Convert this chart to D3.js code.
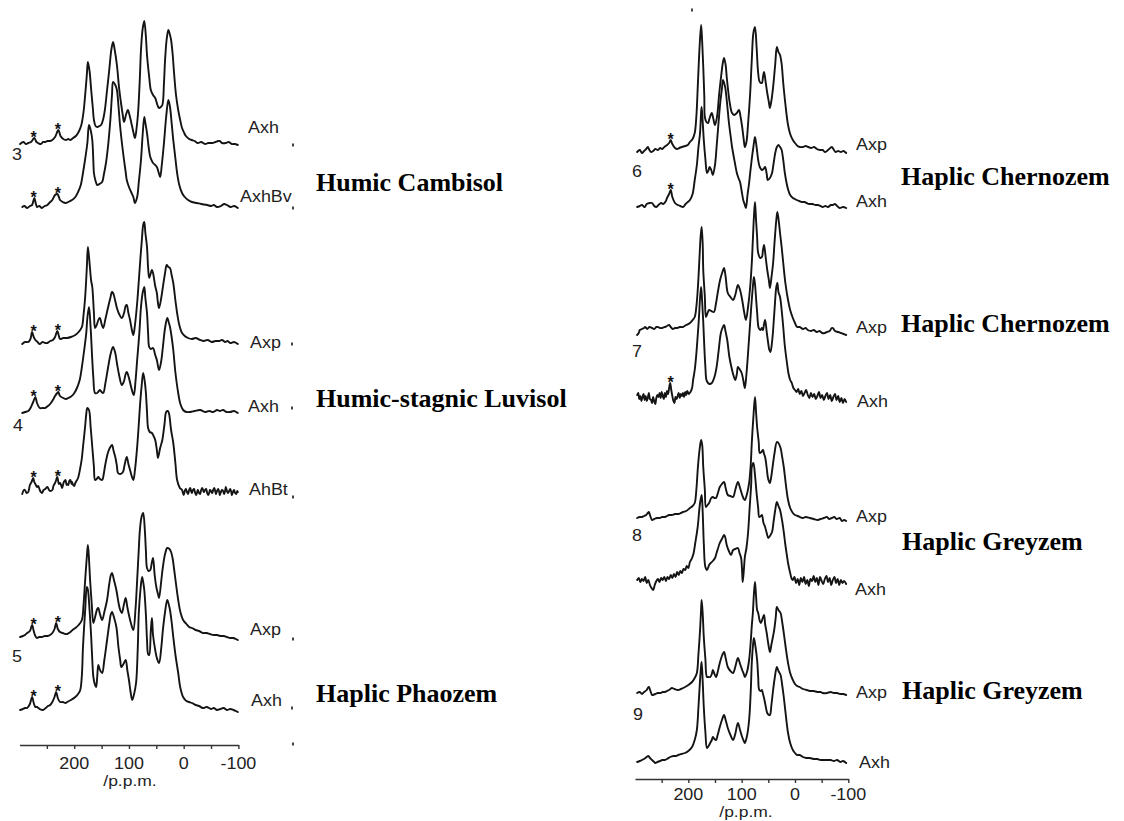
<!DOCTYPE html>
<html>
<head>
<meta charset="utf-8">
<script src="https://cdn.jsdelivr.net/npm/d3@7"></script>
<style>
  html, body { margin: 0; padding: 0; background: #fff; }
  svg { display: block; }
</style>
</head>
<body>
<svg id="chart" width="1124" height="821"></svg>
<script>
// 13C CPMAS NMR spectra of soil horizons, chemical shift (ppm) vs. relative intensity.

const ppmDomain = [300, -100];
const axisTicks = [250, 200, 150, 100, 50, 0, -50, -100];
const axisTickLabels = [200, 100, 0, -100];
const axisUnit = "/p.p.m.";

// spinning sideband positions (ppm), flagged with an asterisk
const sidebandsLeft = [274, 230];
const sidebandsRight = [233];

// ---- Profile 3: Humic Cambisol ----
const cambisolAxh = [[299,1],[293,3],[288,1],[284,2],[279,3],[273,7],[269,3],[266,2],[261,1],[257,3],[253,3],[249,4],[244,4],[240,5],[235,8],[229,15],[225,9],[220,6],[215,5],[211,6],[207,5],[202,7],[197,9],[192,13],[187,20],[183,33],[180,50],[177,70],[175,83],[172,74],[169,55],[166,37],[164,25],[161,19],[158,18],[154,19],[151,20],[147,26],[144,35],[140,55],[136,75],[132,96],[129,103],[126,95],[122,80],[118,57],[114,40],[111,29],[109,23],[105,31],[102,35],[99,30],[96,23],[92,13],[89,7],[86,17],[83,35],[80,68],[78,95],[75,116],[72,124],[69,108],[67,90],[63,68],[60,55],[56,50],[52,47],[48,40],[45,37],[42,38],[39,40],[36,62],[34,85],[31,106],[28,115],[25,110],[23,105],[20,90],[18,75],[14,50],[10,35],[6,24],[3,17],[-1,12],[-4,9],[-10,6],[-15,5],[-20,4],[-26,2],[-32,3],[-39,1],[-45,2],[-52,2],[-58,3],[-63,4],[-66,4],[-70,2],[-77,2],[-82,3],[-88,1],[-93,1],[-99,0]];
const cambisolAxhBv = [[295,0],[291,1],[286,-1],[281,1],[277,2],[273,9],[270,3],[268,0],[264,1],[259,-1],[254,1],[249,2],[244,5],[240,7],[235,12],[231,13],[228,10],[226,7],[221,5],[216,4],[211,5],[204,7],[198,10],[193,15],[188,22],[184,34],[180,48],[176,64],[173,82],[170,77],[167,67],[165,45],[164,34],[161,26],[158,22],[154,23],[149,25],[146,32],[142,44],[138,62],[134,87],[131,112],[129,125],[125,122],[122,117],[119,100],[116,80],[112,60],[109,47],[106,35],[104,27],[100,20],[96,15],[92,10],[89,4],[85,10],[82,25],[78,47],[75,72],[72,90],[70,84],[67,74],[64,60],[61,50],[58,46],[56,44],[52,42],[49,40],[46,35],[43,30],[40,42],[36,64],[32,90],[28,107],[25,100],[22,84],[19,67],[15,48],[12,34],[8,22],[3,14],[-2,10],[-8,7],[-15,5],[-24,4],[-32,3],[-43,2],[-50,1],[-55,2],[-61,0],[-68,1],[-74,3],[-79,2],[-86,0],[-92,1],[-99,-1]];

// ---- Profile 4: Humic-stagnic Luvisol ----
const luvisolAxp = [[295,-1],[290,1],[284,1],[280,4],[277,11],[274,6],[271,3],[267,1],[263,-1],[258,1],[253,0],[249,0],[244,2],[239,3],[235,6],[231,12],[228,7],[226,4],[220,5],[213,5],[206,6],[198,8],[192,11],[186,16],[183,28],[180,46],[177,75],[175,96],[172,80],[169,62],[167,56],[164,30],[162,15],[159,18],[155,24],[153,25],[150,19],[147,15],[143,24],[138,36],[134,45],[131,51],[129,50],[125,42],[122,35],[118,29],[113,25],[109,30],[106,37],[104,38],[101,30],[98,23],[95,14],[92,8],[89,18],[85,40],[82,62],[79,85],[76,106],[74,118],[72,121],[70,110],[67,96],[65,75],[63,65],[60,70],[58,73],[56,70],[52,57],[49,50],[47,40],[45,35],[41,45],[38,56],[34,70],[31,78],[28,76],[25,75],[22,68],[19,60],[15,42],[12,30],[8,18],[3,10],[-2,7],[-8,5],[-15,4],[-22,5],[-30,3],[-37,2],[-44,3],[-51,1],[-58,2],[-65,2],[-70,3],[-76,1],[-80,2],[-85,0],[-92,1],[-99,-1]];
const luvisolAxh = [[295,0],[290,1],[284,2],[279,6],[275,11],[271,16],[268,10],[263,5],[258,5],[253,5],[248,7],[244,9],[239,13],[235,17],[231,20],[229,21],[226,17],[220,15],[215,14],[211,15],[207,16],[201,19],[195,25],[190,33],[186,46],[182,62],[178,80],[176,95],[173,106],[170,85],[167,53],[165,35],[162,20],[158,20],[155,22],[153,23],[150,21],[147,20],[143,30],[138,46],[134,58],[131,64],[129,66],[125,60],[122,50],[118,38],[113,28],[109,32],[106,39],[104,41],[100,35],[96,26],[93,20],[91,18],[88,32],[85,53],[81,80],[78,106],[75,120],[72,126],[70,115],[67,100],[65,80],[63,66],[60,64],[56,65],[52,58],[49,53],[45,43],[41,52],[38,66],[34,85],[30,95],[27,90],[25,86],[22,76],[19,63],[15,40],[10,20],[6,9],[1,3],[-5,1],[-12,1],[-20,2],[-30,3],[-40,1],[-47,2],[-54,1],[-61,3],[-66,2],[-72,3],[-78,1],[-85,1],[-92,2],[-99,0]];
const luvisolAhBt = [[295,-2],[292,2],[290,2],[287,-1],[284,0],[281,7],[278,10],[275,14],[273,10],[271,8],[268,5],[266,6],[263,2],[261,0],[259,-1],[256,2],[253,3],[249,5],[246,2],[244,1],[240,2],[238,6],[235,9],[233,12],[231,15],[229,10],[228,8],[226,9],[224,7],[222,4],[219,10],[216,12],[214,7],[213,8],[211,7],[209,11],[207,12],[205,8],[204,10],[202,7],[200,6],[198,9],[196,11],[193,14],[189,24],[186,34],[184,45],[180,66],[178,78],[176,84],[173,82],[170,65],[167,45],[164,25],[162,12],[159,13],[156,15],[153,13],[149,12],[146,18],[144,25],[140,36],[138,40],[135,44],[131,47],[128,41],[125,35],[122,26],[120,19],[116,18],[111,20],[108,27],[104,35],[101,28],[98,22],[95,16],[92,12],[89,22],[85,45],[82,68],[80,85],[77,105],[74,119],[71,110],[69,99],[67,80],[65,64],[62,60],[58,59],[55,56],[52,52],[49,42],[47,34],[43,44],[39,52],[35,68],[32,80],[29,81],[27,79],[23,62],[19,49],[15,28],[12,12],[7,4],[3,2],[0,-3],[-2,1],[-4,3],[-6,0],[-8,-2],[-10,2],[-12,4],[-14,0],[-15,-1],[-17,2],[-19,3],[-21,-1],[-23,-3],[-25,1],[-26,2],[-28,-1],[-30,-2],[-32,2],[-34,4],[-36,1],[-37,0],[-39,2],[-41,3],[-43,-1],[-45,-3],[-47,0],[-48,2],[-50,1],[-52,-1],[-54,2],[-56,4],[-58,0],[-59,-2],[-61,1],[-63,3],[-65,0],[-66,-3],[-68,0],[-70,2],[-72,1],[-74,-2],[-76,2],[-77,5],[-79,1],[-81,-1],[-83,1],[-85,3],[-87,0],[-88,-3],[-90,0],[-92,2],[-94,-1],[-96,-2],[-98,1],[-99,0]];

// ---- Profile 5: Haplic Phaeozem ----
const phaozemAxp = [[299,2],[294,3],[290,4],[286,6],[281,8],[277,14],[274,8],[271,3],[268,1],[264,2],[259,2],[254,3],[249,3],[244,4],[240,6],[236,10],[233,16],[230,10],[226,7],[221,6],[216,5],[213,5],[207,7],[203,9],[198,11],[192,14],[186,19],[183,34],[180,59],[177,82],[175,94],[173,80],[171,59],[168,35],[165,16],[161,24],[158,30],[156,31],[153,25],[149,19],[145,27],[140,39],[136,55],[133,64],[131,66],[127,58],[123,49],[119,36],[116,29],[113,26],[109,35],[106,41],[103,32],[100,24],[96,15],[92,9],[88,30],[85,59],[82,90],[80,109],[77,122],[74,126],[71,109],[69,88],[67,71],[64,68],[61,69],[58,77],[56,81],[53,64],[50,52],[47,45],[45,41],[41,58],[38,72],[34,85],[30,91],[26,90],[23,87],[20,80],[18,72],[14,55],[10,39],[6,27],[1,19],[-5,15],[-10,12],[-15,11],[-22,9],[-28,8],[-35,6],[-42,6],[-48,5],[-55,4],[-61,4],[-67,3],[-73,3],[-79,2],[-85,1],[-91,1],[-95,0],[-99,-1]];
const phaozemAxh = [[299,0],[294,1],[290,2],[286,2],[281,6],[277,13],[274,7],[271,3],[268,3],[263,1],[257,0],[252,2],[248,4],[244,5],[240,8],[236,13],[233,18],[230,12],[226,8],[221,8],[216,7],[213,8],[206,10],[198,13],[193,16],[189,20],[186,35],[184,63],[180,100],[177,123],[175,120],[172,100],[169,73],[167,50],[165,33],[162,25],[160,23],[158,33],[156,45],[153,40],[149,37],[145,50],[140,70],[136,86],[133,96],[131,98],[127,92],[123,83],[119,62],[116,50],[114,43],[110,46],[106,50],[103,40],[100,30],[97,18],[94,10],[91,15],[87,27],[84,60],[82,97],[79,120],[76,133],[74,128],[72,120],[69,95],[67,70],[65,56],[63,55],[60,80],[58,92],[56,75],[52,60],[49,52],[45,47],[41,62],[38,80],[34,98],[30,110],[27,105],[25,100],[22,88],[19,73],[15,55],[10,37],[6,22],[1,13],[-5,9],[-10,8],[-15,7],[-22,5],[-28,4],[-35,2],[-42,3],[-50,1],[-55,2],[-61,0],[-67,1],[-73,2],[-79,0],[-85,1],[-91,0],[-95,-1],[-99,-2]];

// ---- Profile 6: Haplic Chernozem ----
const chernozem6Axp = [[296,0],[291,2],[287,-1],[283,1],[279,3],[276,5],[273,2],[270,0],[266,1],[262,3],[257,2],[253,4],[249,3],[245,5],[240,7],[236,9],[233,12],[230,8],[225,4],[221,3],[217,4],[212,5],[206,6],[201,7],[197,10],[192,13],[188,19],[185,35],[182,69],[179,104],[176,127],[174,110],[172,85],[170,55],[169,35],[166,30],[163,29],[160,34],[156,39],[153,33],[150,27],[146,36],[142,59],[138,78],[135,90],[133,94],[130,87],[128,75],[125,60],[122,48],[118,39],[114,37],[111,38],[109,39],[105,42],[102,35],[99,25],[96,12],[94,5],[91,10],[88,28],[84,59],[81,92],[78,119],[75,125],[72,105],[69,79],[66,70],[62,69],[60,75],[58,80],[55,70],[52,59],[49,50],[47,44],[44,52],[41,65],[37,88],[34,105],[31,100],[28,97],[25,88],[22,69],[18,48],[13,27],[9,18],[4,12],[0,9],[-5,6],[-9,5],[-15,5],[-20,6],[-25,5],[-30,4],[-36,5],[-41,3],[-47,2],[-52,2],[-56,0],[-60,1],[-64,3],[-69,5],[-72,3],[-76,0],[-81,1],[-86,0],[-91,1],[-96,-1]];
const chernozem6Axh = [[296,0],[291,1],[287,2],[282,0],[278,3],[272,4],[268,4],[264,1],[260,0],[256,2],[251,4],[247,3],[242,6],[240,9],[236,13],[233,17],[230,10],[225,4],[220,2],[215,1],[210,0],[205,3],[201,5],[197,7],[192,13],[188,27],[184,42],[181,60],[178,74],[176,95],[175,100],[173,85],[171,67],[168,48],[165,34],[162,37],[160,40],[157,37],[154,32],[150,42],[147,60],[144,80],[140,105],[137,118],[135,127],[131,120],[128,107],[124,85],[120,68],[118,60],[113,45],[109,34],[106,29],[103,25],[100,16],[97,7],[94,2],[92,-1],[89,12],[86,24],[84,34],[81,48],[78,60],[75,70],[72,60],[69,47],[66,40],[62,37],[59,38],[56,40],[53,33],[51,27],[47,29],[43,34],[40,44],[37,54],[34,60],[31,62],[28,60],[25,57],[22,47],[19,34],[15,22],[12,16],[9,12],[4,9],[0,8],[-3,7],[-8,6],[-13,5],[-18,5],[-22,4],[-27,3],[-33,3],[-38,2],[-43,2],[-48,1],[-52,0],[-57,1],[-62,0],[-67,2],[-71,2],[-75,3],[-79,1],[-84,-1],[-90,0],[-96,-1]];

// ---- Profile 7: Haplic Chernozem ----
const chernozem7Axp = [[296,0],[293,2],[291,5],[287,6],[283,7],[281,8],[277,6],[273,8],[268,7],[264,6],[260,8],[257,8],[253,7],[249,7],[244,8],[240,9],[236,10],[233,8],[229,6],[225,7],[221,7],[216,8],[210,8],[204,10],[197,12],[192,15],[188,18],[185,28],[182,48],[179,78],[177,98],[175,108],[173,90],[172,65],[169,38],[167,18],[164,22],[161,25],[157,24],[152,23],[148,32],[144,45],[140,56],[136,63],[133,67],[130,58],[126,42],[121,38],[116,35],[112,40],[107,50],[103,45],[99,35],[95,22],[92,15],[88,28],[84,48],[81,72],[79,95],[77,118],[75,133],[73,115],[71,98],[69,82],[65,77],[62,78],[60,85],[58,90],[55,78],[52,65],[49,55],[47,47],[44,58],[41,72],[38,95],[35,115],[33,123],[30,112],[28,102],[25,88],[22,72],[18,52],[13,35],[9,25],[4,17],[0,12],[-4,8],[-9,8],[-15,6],[-20,7],[-24,5],[-30,4],[-35,5],[-41,3],[-46,4],[-51,2],[-56,2],[-60,3],[-65,4],[-69,7],[-71,7],[-75,4],[-81,3],[-86,2],[-91,1],[-96,0]];
const chernozem7Axh = [[296,7],[294,9],[292,3],[290,6],[288,1],[286,5],[284,8],[282,2],[280,6],[278,1],[276,4],[274,9],[272,3],[270,2],[268,-1],[266,5],[264,1],[262,-2],[260,4],[258,7],[256,5],[254,9],[252,4],[250,10],[248,6],[246,3],[244,9],[242,5],[240,11],[238,8],[236,14],[234,19],[232,12],[230,6],[228,1],[226,-1],[224,5],[222,3],[220,6],[218,9],[216,4],[214,8],[212,6],[210,9],[208,5],[206,10],[204,7],[202,11],[199,8],[196,10],[193,14],[191,22],[188,32],[185,48],[183,62],[180,85],[178,104],[176,115],[174,100],[172,80],[170,55],[168,35],[166,22],[163,19],[160,18],[156,19],[151,25],[147,35],[143,52],[139,69],[136,74],[133,77],[130,70],[127,62],[123,45],[118,32],[115,26],[112,22],[109,28],[107,35],[104,33],[100,29],[97,22],[94,14],[91,28],[88,49],[85,72],[82,95],[79,115],[77,125],[75,118],[73,104],[71,90],[68,74],[65,72],[62,74],[60,72],[58,78],[56,82],[53,70],[51,62],[48,52],[46,50],[43,60],[41,72],[38,95],[35,115],[33,119],[31,110],[28,105],[25,92],[22,75],[19,56],[15,39],[12,28],[9,22],[6,19],[3,14],[0,12],[-3,10],[-6,13],[-9,8],[-12,11],[-15,6],[-18,9],[-21,12],[-24,7],[-27,4],[-30,9],[-33,5],[-36,8],[-39,3],[-42,6],[-45,10],[-48,4],[-51,7],[-54,2],[-57,6],[-60,9],[-63,3],[-66,7],[-69,1],[-72,5],[-75,8],[-78,2],[-81,6],[-84,0],[-87,4],[-90,-1],[-93,3],[-96,0]];

// ---- Profile 8: Haplic Greyzem ----
const greyzem8Axp = [[296,2],[291,3],[287,3],[283,4],[279,5],[276,7],[274,8],[272,5],[268,0],[264,1],[259,2],[254,2],[249,3],[244,3],[240,4],[236,5],[231,5],[225,6],[219,6],[214,7],[210,8],[204,9],[197,12],[192,14],[188,17],[185,30],[182,53],[179,70],[176,80],[174,75],[172,53],[169,30],[167,13],[164,15],[161,17],[157,22],[154,23],[151,22],[148,22],[144,28],[141,33],[137,36],[133,38],[130,32],[126,25],[121,24],[116,23],[112,30],[107,38],[103,32],[99,25],[96,21],[94,20],[90,26],[86,37],[83,55],[81,77],[78,103],[75,123],[73,108],[71,93],[68,78],[66,67],[63,68],[60,70],[58,66],[56,63],[53,52],[51,43],[49,39],[47,37],[44,45],[41,57],[38,68],[34,78],[31,77],[27,72],[24,63],[21,53],[17,35],[13,20],[9,12],[4,7],[0,5],[-5,4],[-9,3],[-15,2],[-20,3],[-28,2],[-35,1],[-43,0],[-48,1],[-54,2],[-60,3],[-64,1],[-69,2],[-74,3],[-78,1],[-84,2],[-88,-1],[-92,0],[-96,-1]];
const greyzem8Axh = [[296,3],[293,5],[290,1],[287,4],[284,2],[281,6],[278,0],[275,3],[272,-2],[269,-5],[266,-7],[263,-2],[260,2],[257,4],[254,1],[251,5],[248,3],[245,6],[242,2],[239,6],[236,4],[233,8],[230,5],[227,9],[224,6],[221,11],[218,8],[215,12],[212,10],[209,14],[206,13],[203,17],[200,15],[197,21],[193,25],[190,30],[187,40],[184,50],[182,58],[180,70],[178,80],[175,88],[173,70],[171,40],[168,16],[165,13],[161,18],[158,20],[154,22],[150,25],[147,30],[141,40],[137,44],[133,48],[131,46],[128,38],[124,32],[120,28],[116,33],[112,34],[107,35],[104,30],[101,25],[99,10],[98,1],[96,12],[94,26],[91,35],[88,50],[85,75],[82,100],[81,116],[78,120],[75,108],[72,90],[69,75],[67,66],[64,67],[62,68],[59,60],[56,56],[53,50],[50,45],[47,47],[43,51],[40,62],[37,73],[34,81],[31,77],[28,73],[24,62],[21,51],[18,38],[15,27],[13,20],[9,10],[6,4],[4,3],[1,6],[-2,0],[-5,4],[-8,-2],[-11,5],[-14,1],[-17,6],[-20,-1],[-23,3],[-26,-3],[-29,4],[-32,2],[-35,7],[-38,1],[-41,5],[-44,-2],[-47,6],[-50,2],[-53,-1],[-56,4],[-59,7],[-62,1],[-65,5],[-68,-2],[-71,3],[-74,6],[-77,0],[-80,4],[-83,-2],[-86,3],[-89,0],[-92,2],[-96,-1]];

// ---- Profile 9: Haplic Greyzem ----
const greyzem9Axp = [[296,1],[291,2],[287,0],[283,2],[278,4],[276,6],[274,7],[271,3],[268,-1],[266,-1],[262,0],[257,1],[252,1],[248,2],[244,2],[240,3],[236,4],[231,6],[226,5],[219,4],[214,5],[206,7],[200,9],[193,12],[188,16],[184,21],[181,40],[178,64],[176,85],[175,94],[173,80],[171,57],[168,35],[165,17],[162,17],[159,17],[156,20],[154,24],[151,20],[148,17],[145,22],[141,31],[137,38],[133,42],[130,36],[126,27],[121,23],[116,21],[112,27],[107,36],[103,30],[99,24],[96,20],[94,17],[90,22],[86,34],[83,52],[81,68],[79,81],[77,100],[75,112],[73,98],[71,84],[69,81],[66,73],[64,71],[61,75],[58,79],[56,70],[53,61],[50,50],[47,42],[44,50],[41,58],[39,64],[36,77],[34,87],[31,84],[27,81],[24,72],[21,61],[17,45],[13,31],[9,21],[4,14],[0,10],[-4,8],[-9,7],[-15,5],[-22,4],[-28,3],[-35,3],[-42,2],[-48,2],[-52,1],[-60,1],[-67,2],[-73,1],[-79,1],[-85,0],[-90,0],[-96,-1]];
const greyzem9Axh = [[296,0],[291,1],[287,2],[283,3],[278,5],[275,6],[272,4],[268,2],[264,0],[262,-1],[258,0],[253,1],[249,2],[244,2],[240,3],[234,5],[228,6],[223,6],[219,7],[213,8],[206,9],[200,11],[193,15],[188,22],[184,32],[181,55],[178,82],[176,96],[175,100],[173,80],[171,55],[168,30],[165,14],[162,16],[159,19],[156,22],[154,25],[151,23],[148,22],[145,27],[141,35],[137,42],[133,47],[130,42],[126,34],[121,27],[116,22],[112,28],[107,39],[103,32],[99,25],[96,21],[94,19],[90,26],[86,42],[83,70],[81,99],[79,115],[77,124],[74,115],[71,102],[69,85],[67,72],[64,71],[62,72],[60,68],[58,64],[55,56],[52,49],[49,47],[47,47],[44,58],[41,72],[38,84],[34,95],[31,91],[27,87],[24,77],[21,65],[17,46],[13,29],[9,19],[4,12],[0,9],[-4,7],[-9,7],[-15,5],[-22,4],[-28,4],[-35,3],[-42,3],[-48,2],[-52,2],[-60,2],[-67,2],[-73,1],[-79,2],[-85,0],[-90,1],[-96,-1]];

// Profile numbers and soil names
const profileNumbers = ["3", "4", "5", "6", "7", "8", "9"];
const soilNames = ["Humic Cambisol", "Humic-stagnic Luvisol", "Haplic Phaozem",
                   "Haplic Chernozem", "Haplic Chernozem", "Haplic Greyzem", "Haplic Greyzem"];

// ---------------- layout ----------------
const svg = d3.select("#chart");
const SANS = "'Liberation Sans', Arial, Helvetica, sans-serif";
const SERIF = "'Liberation Serif', 'Times New Roman', Times, serif";
const INK = "#141414";
const STRETCH = 1.12;

const panels = [
  {
    range: [19.5, 238.4], axisY: 745, tickLabelY: 769, unitX: 130, unitY: 786,
    sidebands: sidebandsLeft,
    spectra: [
      { data: cambisolAxh,   base: 145, horizon: "Axh",   lx: 248, ly: 133, starred: true },
      { data: cambisolAxhBv, base: 207, horizon: "AxhBv", lx: 240, ly: 202, starred: true },
      { data: luvisolAxp,    base: 343, horizon: "Axp",   lx: 250, ly: 348, starred: true },
      { data: luvisolAxh,    base: 413, horizon: "Axh",   lx: 248, ly: 412, starred: true },
      { data: luvisolAhBt,   base: 492, horizon: "AhBt",  lx: 249, ly: 495, starred: true },
      { data: phaozemAxp,    base: 639, horizon: "Axp",   lx: 250, ly: 635, starred: true },
      { data: phaozemAxh,    base: 710, horizon: "Axh",   lx: 251, ly: 706, starred: true }
    ],
    numbers: [ { n: 0, x: 12, y: 160 }, { n: 1, x: 13, y: 431 }, { n: 2, x: 12, y: 662 } ],
    names:   [ { n: 0, x: 316, y: 191 }, { n: 1, x: 316, y: 407 }, { n: 2, x: 316, y: 702 } ],
    marks: [[293,145],[293,208],[292,344],[292,408],[293,497],[293,639],[292,708],[293,744]]
  },
  {
    range: [635, 848.3], axisY: 779, tickLabelY: 800, unitX: 746, unitY: 817,
    sidebands: sidebandsRight,
    spectra: [
      { data: chernozem6Axp, base: 152, horizon: "Axp", lx: 856, ly: 150, starred: true },
      { data: chernozem6Axh, base: 207, horizon: "Axh", lx: 856, ly: 207, starred: true },
      { data: chernozem7Axp, base: 335, horizon: "Axp", lx: 856, ly: 333 },
      { data: chernozem7Axh, base: 402, horizon: "Axh", lx: 857, ly: 407, starred: true },
      { data: greyzem8Axp,   base: 520, horizon: "Axp", lx: 856, ly: 522 },
      { data: greyzem8Axh,   base: 583, horizon: "Axh", lx: 855, ly: 595 },
      { data: greyzem9Axp,   base: 694, horizon: "Axp", lx: 856, ly: 698 },
      { data: greyzem9Axh,   base: 762, horizon: "Axh", lx: 859, ly: 768 }
    ],
    numbers: [ { n: 3, x: 632, y: 177 }, { n: 4, x: 632, y: 357 }, { n: 5, x: 632, y: 541 }, { n: 6, x: 633, y: 720 } ],
    names:   [ { n: 3, x: 901, y: 185 }, { n: 4, x: 901, y: 332 }, { n: 5, x: 902, y: 550 }, { n: 6, x: 902, y: 699 } ],
    marks: [[692,10]]
  }
];

// horizontally widened sans-serif label
function sansLabel(g, x, y, str, anchor, size, stretch) {
  return g.append("text")
    .attr("transform", `translate(${x},${y}) scale(${stretch || STRETCH},1)`)
    .attr("text-anchor", anchor || "start")
    .attr("font-family", SANS)
    .attr("font-size", size || 16)
    .attr("fill", "#222")
    .text(str);
}

// highest intensity of a spectrum within a few ppm of a position
function localMax(data, ppm) {
  const near = data.filter(d => Math.abs(d[0] - ppm) <= 3);
  return d3.max(near, d => d[1]);
}

panels.forEach(p => {
  const g = svg.append("g");
  const x = d3.scaleLinear().domain(ppmDomain).range(p.range);

  // spectra
  p.spectra.forEach(s => {
    const y = d3.scaleLinear().domain([0, 100]).range([s.base, s.base - 100]);
    const line = d3.line()
      .x(d => x(d[0]))
      .y(d => y(d[1]))
      .curve(d3.curveCatmullRom.alpha(0.5));
    g.append("path")
      .datum(s.data)
      .attr("d", line)
      .attr("fill", "none")
      .attr("stroke", INK)
      .attr("stroke-width", 1.9)
      .attr("stroke-linejoin", "round")
      .attr("stroke-linecap", "round");
    sansLabel(g, s.lx, s.ly, s.horizon);

    // asterisks over the spinning sidebands
    if (s.starred) {
      p.sidebands.forEach(sb => {
        g.append("text")
          .attr("x", x(sb))
          .attr("y", y(localMax(s.data, sb)) + 5)
          .attr("text-anchor", "middle")
          .attr("font-family", SANS)
          .attr("font-weight", "bold")
          .attr("font-size", 16)
          .attr("fill", "#111")
          .text("*");
      });
    }
  });

  // chemical shift axis
  const axis = d3.axisBottom(x)
    .tickValues(axisTicks)
    .tickSize(4)
    .tickSizeOuter(0)
    .tickFormat("");
  const ag = g.append("g").attr("transform", `translate(0,${p.axisY})`).call(axis);
  ag.select(".domain").attr("stroke", "#333").attr("stroke-width", 1.6);
  ag.selectAll(".tick line").attr("stroke", "#333").attr("stroke-width", 1.4);

  axisTickLabels.forEach(v => sansLabel(g, x(v), p.tickLabelY, String(v), "middle"));
  sansLabel(g, p.unitX, p.unitY, axisUnit, "middle", 14, 1.25);

  // profile numbers
  p.numbers.forEach(d => sansLabel(g, d.x, d.y, profileNumbers[d.n]));

  // soil names
  p.names.forEach(d => {
    g.append("text")
      .attr("x", d.x).attr("y", d.y)
      .attr("font-family", SERIF)
      .attr("font-weight", "bold")
      .attr("font-size", 26)
      .attr("fill", "#000")
      .text(soilNames[d.n]);
  });

  // small edge marks
  p.marks.forEach(m => {
    g.append("rect").attr("x", m[0] - 1).attr("y", m[1] - 1.5)
      .attr("width", 2).attr("height", 3).attr("fill", "#444");
  });
});
</script>
</body>
</html>
